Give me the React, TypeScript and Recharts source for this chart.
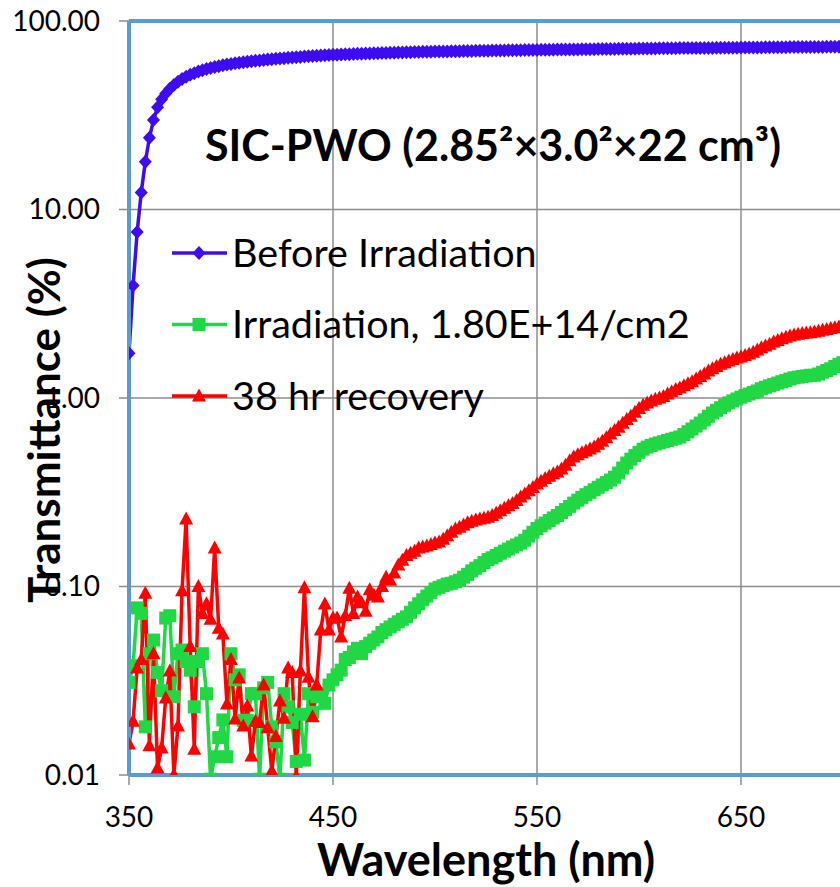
import React from 'react';
import {
    LineChart,
    Line,
    XAxis,
    YAxis,
    CartesianGrid,
    Legend,
    ReferenceLine
} from 'recharts';

// wavelength sampling, 2 nm steps from 350 to 700 nm
const wavelengths: number[] = Array.from({ length: 176 }, (_, i) => 350 + 2 * i);

// Transmittance (%), one row per 50 nm block
const beforeIrradiation: number[] = [
    1.73, 3.95, 7.6, 12.3, 17.9, 24.0, 29.8, 34.9, 38.5, 41.3, 43.7, 45.8, 47.6, 49.2, 50.6, 51.8, 52.9, 53.9, 54.8, 55.6, 56.3, 57.0, 57.6, 58.2, 58.7,
    59.2, 59.6, 60.0, 60.4, 60.8, 61.2, 61.5, 61.8, 62.1, 62.4, 62.7, 63.0, 63.3, 63.5, 63.8, 64.0, 64.3, 64.5, 64.8, 65.0, 65.2, 65.4, 65.6, 65.8, 66.0,
    66.2, 66.3, 66.4, 66.6, 66.7, 66.8, 67.0, 67.1, 67.2, 67.3, 67.4, 67.5, 67.6, 67.7, 67.8, 67.9, 68.0, 68.1, 68.2, 68.3, 68.4, 68.5, 68.6, 68.7, 68.7,
    68.8, 68.9, 69.0, 69.0, 69.1, 69.2, 69.2, 69.3, 69.4, 69.4, 69.5, 69.5, 69.6, 69.6, 69.7, 69.7, 69.8, 69.8, 69.9, 69.9, 70.0, 70.0, 70.1, 70.1, 70.2,
    70.2, 70.3, 70.3, 70.4, 70.4, 70.5, 70.5, 70.6, 70.6, 70.7, 70.7, 70.8, 70.8, 70.9, 70.9, 71.0, 71.0, 71.0, 71.1, 71.1, 71.2, 71.2, 71.2, 71.3, 71.3,
    71.4, 71.4, 71.4, 71.5, 71.5, 71.6, 71.6, 71.6, 71.7, 71.7, 71.8, 71.8, 71.8, 71.9, 71.9, 71.9, 72.0, 72.0, 72.0, 72.1, 72.1, 72.1, 72.2, 72.2, 72.2,
    72.3, 72.3, 72.3, 72.4, 72.4, 72.4, 72.5, 72.5, 72.5, 72.6, 72.6, 72.6, 72.7, 72.7, 72.7, 72.8, 72.8, 72.8, 72.9, 72.9, 72.9, 73.0, 73.0, 73.0, 73.1,
    73.1
];

const irradiated: number[] = [
    0.031, 0.038, 0.077, 0.072, 0.018, 0.044, 0.052, 0.035, 0.028, 0.068, 0.070, 0.026, 0.044, 0.046, 0.040, 0.036, 0.023, 0.040, 0.044, 0.027, 0.0095, 0.0125, 0.0158, 0.0196, 0.0125,
    0.044, 0.032, 0.034, 0.0195, 0.0195, 0.027, 0.027, 0.0095, 0.029, 0.031, 0.018, 0.015, 0.0095, 0.027, 0.023, 0.019, 0.0118, 0.021, 0.012, 0.027, 0.0215, 0.026, 0.027, 0.024, 0.030,
    0.032, 0.034, 0.036, 0.041, 0.042, 0.045, 0.047, 0.044, 0.048, 0.050, 0.052, 0.054, 0.057, 0.059, 0.061, 0.063, 0.065, 0.067, 0.069, 0.073, 0.077, 0.081, 0.085, 0.089, 0.093,
    0.097, 0.099, 0.101, 0.103, 0.104, 0.106, 0.108, 0.112, 0.116, 0.121, 0.125, 0.129, 0.134, 0.139, 0.142, 0.146, 0.150, 0.154, 0.158, 0.162, 0.166, 0.170, 0.176, 0.185, 0.194,
    0.203, 0.210, 0.217, 0.224, 0.231, 0.238, 0.247, 0.256, 0.266, 0.277, 0.287, 0.297, 0.307, 0.316, 0.326, 0.336, 0.346, 0.356, 0.367, 0.380, 0.400, 0.425, 0.452, 0.474, 0.495,
    0.515, 0.535, 0.549, 0.560, 0.570, 0.578, 0.586, 0.595, 0.604, 0.612, 0.621, 0.640, 0.662, 0.685, 0.710, 0.736, 0.765, 0.800, 0.832, 0.860, 0.888, 0.915, 0.942, 0.965, 0.988,
    1.01, 1.03, 1.05, 1.07, 1.09, 1.12, 1.14, 1.16, 1.18, 1.20, 1.22, 1.24, 1.26, 1.28, 1.29, 1.30, 1.31, 1.32, 1.32, 1.34, 1.37, 1.40, 1.43, 1.47, 1.51,
    1.54
];

const recovery38h: number[] = [
    0.0146, 0.0193, 0.037, 0.041, 0.092, 0.0143, 0.044, 0.0109, 0.0139, 0.0256, 0.0356, 0.0100, 0.0182, 0.095, 0.228, 0.048, 0.0137, 0.100, 0.072, 0.081, 0.067, 0.160, 0.060, 0.056, 0.0238,
    0.041, 0.0198, 0.0327, 0.0182, 0.0232, 0.0126, 0.0193, 0.019, 0.030, 0.0178, 0.0105, 0.016, 0.0247, 0.020, 0.037, 0.035, 0.0098, 0.0356, 0.0985, 0.033, 0.0204, 0.030, 0.0588, 0.0807, 0.0588,
    0.068, 0.068, 0.054, 0.070, 0.098, 0.072, 0.088, 0.082, 0.074, 0.096, 0.090, 0.088, 0.100, 0.112, 0.108, 0.118, 0.130, 0.138, 0.146, 0.150, 0.154, 0.160, 0.162, 0.164, 0.167,
    0.170, 0.172, 0.178, 0.186, 0.194, 0.202, 0.206, 0.212, 0.218, 0.222, 0.225, 0.228, 0.230, 0.233, 0.238, 0.245, 0.252, 0.260, 0.268, 0.276, 0.286, 0.298, 0.310, 0.322, 0.335,
    0.350, 0.362, 0.374, 0.385, 0.396, 0.405, 0.420, 0.440, 0.465, 0.486, 0.500, 0.512, 0.524, 0.536, 0.550, 0.568, 0.590, 0.615, 0.645, 0.672, 0.700, 0.735, 0.770, 0.800, 0.840,
    0.880, 0.915, 0.940, 0.965, 0.985, 1.00, 1.02, 1.05, 1.08, 1.11, 1.13, 1.16, 1.19, 1.22, 1.26, 1.30, 1.34, 1.39, 1.43, 1.47, 1.51, 1.54, 1.57, 1.60, 1.63,
    1.65, 1.68, 1.71, 1.75, 1.80, 1.85, 1.89, 1.93, 1.98, 2.02, 2.06, 2.10, 2.13, 2.16, 2.18, 2.20, 2.21, 2.22, 2.24, 2.26, 2.29, 2.31, 2.34, 2.36, 2.38,
    2.41
];

const xTicks = [350, 450, 550, 650];
const yTicks = [0.01, 0.1, 1, 10, 100];

const BLUE = '#3D0CF0';
const GREEN = '#20D844';
const RED = '#FF0000';
const FRAME = '#5B9BD5';
const GRID = '#8C8C8C';
const FONT = 'Lato, "Open Sans", sans-serif';

const legendItems = [
    { key: 'before', label: 'Before Irradiation', color: BLUE, shape: 'diamond' },
    { key: 'irr', label: 'Irradiation, 1.80E+14/cm2', color: GREEN, shape: 'square' },
    { key: 'rec', label: '38 hr recovery', color: RED, shape: 'triangle' }
];

const data = wavelengths.map((wl, i) => ({
    wl,
    before: beforeIrradiation[i],
    irr: irradiated[i],
    rec: recovery38h[i]
}));

const markerPath = (shape: string, cx: number, cy: number) => {
    if (shape === 'diamond') return `M${cx},${cy - 7}L${cx + 6.5},${cy}L${cx},${cy + 7}L${cx - 6.5},${cy}Z`;
    if (shape === 'square') return `M${cx - 6.5},${cy - 6.5}h13v13h-13Z`;
    return `M${cx},${cy - 7.5}L${cx + 7},${cy + 5.5}L${cx - 7},${cy + 5.5}Z`;
};

const makeDot = (shape: string, color: string) => (props: any) => {
    const { cx, cy, index } = props;
    if (cx == null || cy == null || isNaN(cx) || isNaN(cy)) return <g key={`${shape}-${index}`} />;
    return <path key={`${shape}-${index}`} d={markerPath(shape, cx, cy)} fill={color} />;
};

const renderLegend = () => (
    <svg width={560} height={190} style={{ overflow: 'visible' }}>
        {legendItems.map((item, i) => {
            const y = 23 + i * 71.5;
            return (
                <g key={item.key}>
                    <line x1={7} x2={62} y1={y} y2={y} stroke={item.color} strokeWidth={3.5} />
                    <path d={markerPath(item.shape, 34, y)} fill={item.color} />
                    <text x={67} y={y} dy="0.35em" fontSize={39.5} fontFamily={FONT} fill="#000">
                        {item.label}
                    </text>
                </g>
            );
        })}
    </svg>
);

const App: React.FC = () => {
    return (
        <div style={{ position: 'absolute', left: 0, top: 0, width: 840, height: 887, overflow: 'hidden', background: '#fff' }}>
            <LineChart
                width={1000}
                height={887}
                data={data}
                margin={{ top: 21, right: 55, left: 9, bottom: 72 }}
            >
                <CartesianGrid stroke={GRID} strokeWidth={1.5} />
                <XAxis
                    dataKey="wl"
                    type="number"
                    domain={[350, 750]}
                    ticks={xTicks}
                    allowDataOverflow
                    height={40}
                    axisLine={{ stroke: FRAME, strokeWidth: 4 }}
                    tickLine={{ stroke: GRID, strokeWidth: 1.5 }}
                    tickSize={10}
                    tickMargin={22}
                    tick={{ fill: '#000', fontSize: 28, fontFamily: FONT }}
                />
                <YAxis
                    type="number"
                    scale="log"
                    domain={[0.01, 100]}
                    ticks={yTicks}
                    allowDataOverflow
                    width={120}
                    axisLine={{ stroke: FRAME, strokeWidth: 4 }}
                    tickLine={{ stroke: GRID, strokeWidth: 1.5 }}
                    tickSize={10}
                    tickMargin={19}
                    tickFormatter={(v: number) => v.toFixed(2)}
                    tick={{ fill: '#000', fontSize: 28, fontFamily: FONT }}
                />
                <ReferenceLine y={100} stroke={FRAME} strokeWidth={4} />
                <Legend
                    layout="horizontal"
                    verticalAlign="middle"
                    align="center"
                    content={renderLegend}
                    wrapperStyle={{ left: 165, top: 230, width: 560, height: 190 }}
                />
                <Line
                    dataKey="before"
                    name="Before Irradiation"
                    stroke={BLUE}
                    strokeWidth={3.5}
                    dot={makeDot('diamond', BLUE)}
                    activeDot={false}
                    isAnimationActive={false}
                />
                <Line
                    dataKey="irr"
                    name="Irradiation, 1.80E+14/cm2"
                    stroke={GREEN}
                    strokeWidth={3.5}
                    dot={makeDot('square', GREEN)}
                    activeDot={false}
                    isAnimationActive={false}
                />
                <Line
                    dataKey="rec"
                    name="38 hr recovery"
                    stroke={RED}
                    strokeWidth={3.5}
                    dot={makeDot('triangle', RED)}
                    activeDot={false}
                    isAnimationActive={false}
                />
            </LineChart>
            <svg
                width={840}
                height={887}
                style={{ position: 'absolute', left: 0, top: 0, pointerEvents: 'none' }}
            >
                <text x={493} y={161} textAnchor="middle" fontSize={43} fontWeight="bold" fontFamily={FONT} fill="#000">
                    SIC-PWO (2.85²×3.0²×22 cm³)
                </text>
                <text x={486} y={876} textAnchor="middle" fontSize={45} fontWeight="bold" fontFamily={FONT} fill="#000">
                    Wavelength (nm)
                </text>
                <text
                    x={45}
                    y={430}
                    transform="rotate(-90 45 430)"
                    textAnchor="middle"
                    dy="0.35em"
                    fontSize={44}
                    fontWeight="bold"
                    fontFamily={FONT}
                    fill="#000"
                >
                    Transmittance (%)
                </text>
            </svg>
        </div>
    );
};

export default App;
